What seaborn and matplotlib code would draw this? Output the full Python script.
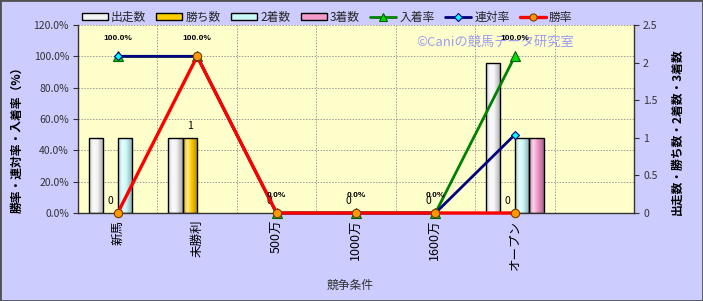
import numpy as np
import pandas as pd
import matplotlib
matplotlib.use("Agg")
import matplotlib.pyplot as plt
import seaborn as sns
from matplotlib.lines import Line2D
from matplotlib.patches import Patch, Rectangle
from matplotlib.colors import LinearSegmentedColormap, to_rgb

# ---------------- data ----------------
categories = ["新馬", "未勝利", "500万", "1000万", "1600万", "オープン"]
runs = [1, 1, 0, 0, 0, 2]          # 出走数
wins = [0, 1, 0, 0, 0, 0]          # 勝ち数
seconds = [1, 0, 0, 0, 0, 1]       # 2着数
thirds = [0, 0, 0, 0, 0, 1]        # 3着数
place_rate = [100.0, 100.0, 0.0, 0.0, 0.0, 100.0]   # 入着率
quinella_rate = [100.0, 100.0, 0.0, 0.0, 0.0, 50.0] # 連対率
win_rate = [0.0, 100.0, 0.0, 0.0, 0.0, 0.0]         # 勝率

bar_names = ["出走数", "勝ち数", "2着数", "3着数"]
bar_colors = ["#F4F4F4", "#FFCC00", "#C8F8F8", "#F49ACB"]
left_ticks = [0, 20, 40, 60, 80, 100, 120]
right_ticks = [0, 0.5, 1, 1.5, 2, 2.5]

# ---------------- style ----------------
sns.set_style("white")
plt.rcParams["font.family"] = ["Noto Sans CJK JP", "DejaVu Sans"]

W, H = 703, 301
fig = plt.figure(figsize=(W / 100, H / 100), dpi=100, facecolor="#CCCCFF")
L, R, T, B = 78, 634, 25, 213
ax_bar = fig.add_axes([L / W, 1 - B / H, (R - L) / W, (B - T) / H])
ax_bar.set_facecolor("#FFFFCC")
ax_line = ax_bar.twinx()

# ---------------- bars ----------------
bar_df = pd.DataFrame({
    "条件": categories * 4,
    "項目": np.repeat(bar_names, len(categories)),
    "値": runs + wins + seconds + thirds,
})
sns.barplot(data=bar_df, x="条件", y="値", hue="項目", order=categories,
            hue_order=bar_names, palette=bar_colors, saturation=1,
            width=0.73, gap=0, edgecolor="black", linewidth=1.0,
            legend=False, ax=ax_bar, zorder=2)

grad = np.linspace(0, 1, 64).reshape(1, -1)
for cont, col in zip(ax_bar.containers, bar_colors):
    base = np.array(to_rgb(col))
    cmap = LinearSegmentedColormap.from_list(
        "g", [(0, base * 0.85), (0.3, base + (1 - base) * 0.6),
              (0.55, base), (1, base * 0.68)])
    for p in cont.patches:
        h = p.get_height()
        if h <= 0:
            p.set_visible(False)
            continue
        x0, w = p.get_x(), p.get_width()
        im = ax_bar.imshow(grad, cmap=cmap, extent=(x0, x0 + w, 0, h),
                           aspect="auto", origin="lower",
                           interpolation="bilinear", zorder=1.9)
        im.set_clip_path(p)
        p.set_facecolor("none")

ax_bar.bar_label(ax_bar.containers[1], labels=[str(v) for v in wins],
                 padding=5, fontsize=7.5, color="black")

ax_bar.set_xlim(-0.5, 6.5)
ax_bar.set_ylim(0, 2.5)
ax_bar.yaxis.tick_right()
ax_bar.yaxis.set_label_position("right")
ax_bar.set_yticks(right_ticks, labels=[f"{t:g}" for t in right_ticks])
ax_bar.set_xticks(range(len(categories)), labels=categories, rotation=90)
ax_bar.set_xlabel("")
ax_bar.set_ylabel("")

# grid (behind bars)
for v in left_ticks[1:]:
    ax_bar.plot([0, 1], [v / 120, v / 120], transform=ax_bar.transAxes,
                color="#9A9A9A", lw=0.7, ls=(0, (1.5, 1.5)), zorder=0.5)
for xb in np.arange(0.5, 6.5, 1.0):
    ax_bar.axvline(xb, color="#9A9A9A", lw=0.7, ls=(0, (1.5, 1.5)), zorder=0.5)

# ---------------- lines ----------------
xpos = np.arange(len(categories))
line_specs = [
    ("入着率", place_rate, "#008000", "^", "#00DD00", "#006000", 7, 2.0),
    ("連対率", quinella_rate, "#000080", "D", "#00FFFF", "#000080", 4.5, 2.0),
    ("勝率", win_rate, "#FF0000", "o", "#FF9900", "#7A3A00", 6, 2.4),
]
for name, vals, col, mk, mfc, mec, ms, lw in line_specs:
    sns.lineplot(x=xpos, y=np.array(vals), ax=ax_line, color=col, lw=lw,
                 marker=mk, markerfacecolor=mfc, markeredgecolor=mec,
                 markersize=ms, markeredgewidth=0.8, legend=False,
                 clip_on=False, zorder=3)

for i, v in enumerate(place_rate):
    ax_line.annotate(f"{v:.1f}%", (xpos[i], v), xytext=(0, 12.5),
                     textcoords="offset points", ha="center", va="center",
                     fontsize=6, fontweight="bold", family="Liberation Sans",
                     color="black", zorder=5)

ax_line.set_ylim(0, 120)
ax_line.set_xlim(-0.5, 6.5)
ax_line.yaxis.tick_left()
ax_line.yaxis.set_label_position("left")
ax_line.set_yticks(left_ticks, labels=[f"{t:.1f}%" for t in left_ticks])

# watermark
ax_line.text((495 - L) / (R - L), (B - 42) / (B - T), "©Caniの競馬データ研究室",
             transform=ax_line.transAxes, ha="center", va="center",
             fontsize=9.5, color="#9C9CF0", zorder=1)

# ---------------- axes styling ----------------
for a in (ax_bar, ax_line):
    for s in a.spines.values():
        s.set_visible(False)
ax_bar.spines["left"].set_visible(True)
ax_bar.spines["bottom"].set_visible(True)
ax_bar.spines["right"].set_visible(True)
for k in ("left", "bottom", "right"):
    ax_bar.spines[k].set_color("#333333")
    ax_bar.spines[k].set_linewidth(1.0)
    ax_bar.spines[k].set_zorder(2.5)

ax_bar.tick_params(axis="x", length=0, pad=5, labelsize=9, labelcolor="black")
ax_bar.tick_params(axis="y", which="major", length=3.5, width=0.8,
                   color="#333333", right=True, left=False,
                   labelsize=7.5, labelcolor="#333333", pad=3)
ax_line.tick_params(axis="y", which="major", length=3.5, width=0.8,
                    color="#333333", left=True, right=False,
                    labelsize=7.5, labelcolor="#333333", pad=3)
ax_line.tick_params(axis="x", length=0, labelbottom=False)

ax_line.set_ylabel("勝率・連対率・入着率（%）", fontsize=8.5, fontweight="bold",
                   color="black")
ax_line.yaxis.set_label_coords((24 - L) / (R - L), (B - 137) / (B - T))
ax_bar.set_ylabel("出走数・勝ち数・2着数・3着数", fontsize=8.5, fontweight="bold",
                  color="black", rotation=90)
ax_bar.yaxis.set_label_coords((671 - L) / (R - L), (B - 132) / (B - T))

fig.text(350 / W, 1 - 285 / H, "競争条件", ha="center", va="center",
         fontsize=8.5, color="#333333")

# ---------------- legend ----------------
handles = [Patch(facecolor=c, edgecolor="black", linewidth=1.0) for c in bar_colors]
labels = list(bar_names)
for name, vals, col, mk, mfc, mec, ms, lw in line_specs:
    handles.append(Line2D([], [], color=col, lw=lw, marker=mk,
                          markerfacecolor=mfc, markeredgecolor=mec,
                          markersize=ms * 0.85, markeredgewidth=0.8))
    labels.append(name)
fig.legend(handles, labels, ncol=7, loc="center",
           bbox_to_anchor=(327 / W, 1 - 17 / H), frameon=False,
           fontsize=8.5, handlelength=2.2, handleheight=0.6,
           handletextpad=0.25, columnspacing=0.9, borderaxespad=0)

fig.patches.append(Rectangle((0, 0), 1, 1, transform=fig.transFigure,
                             fill=False, edgecolor="#505050", lw=2))

fig.savefig("out.png", dpi=100, facecolor=fig.get_facecolor())
